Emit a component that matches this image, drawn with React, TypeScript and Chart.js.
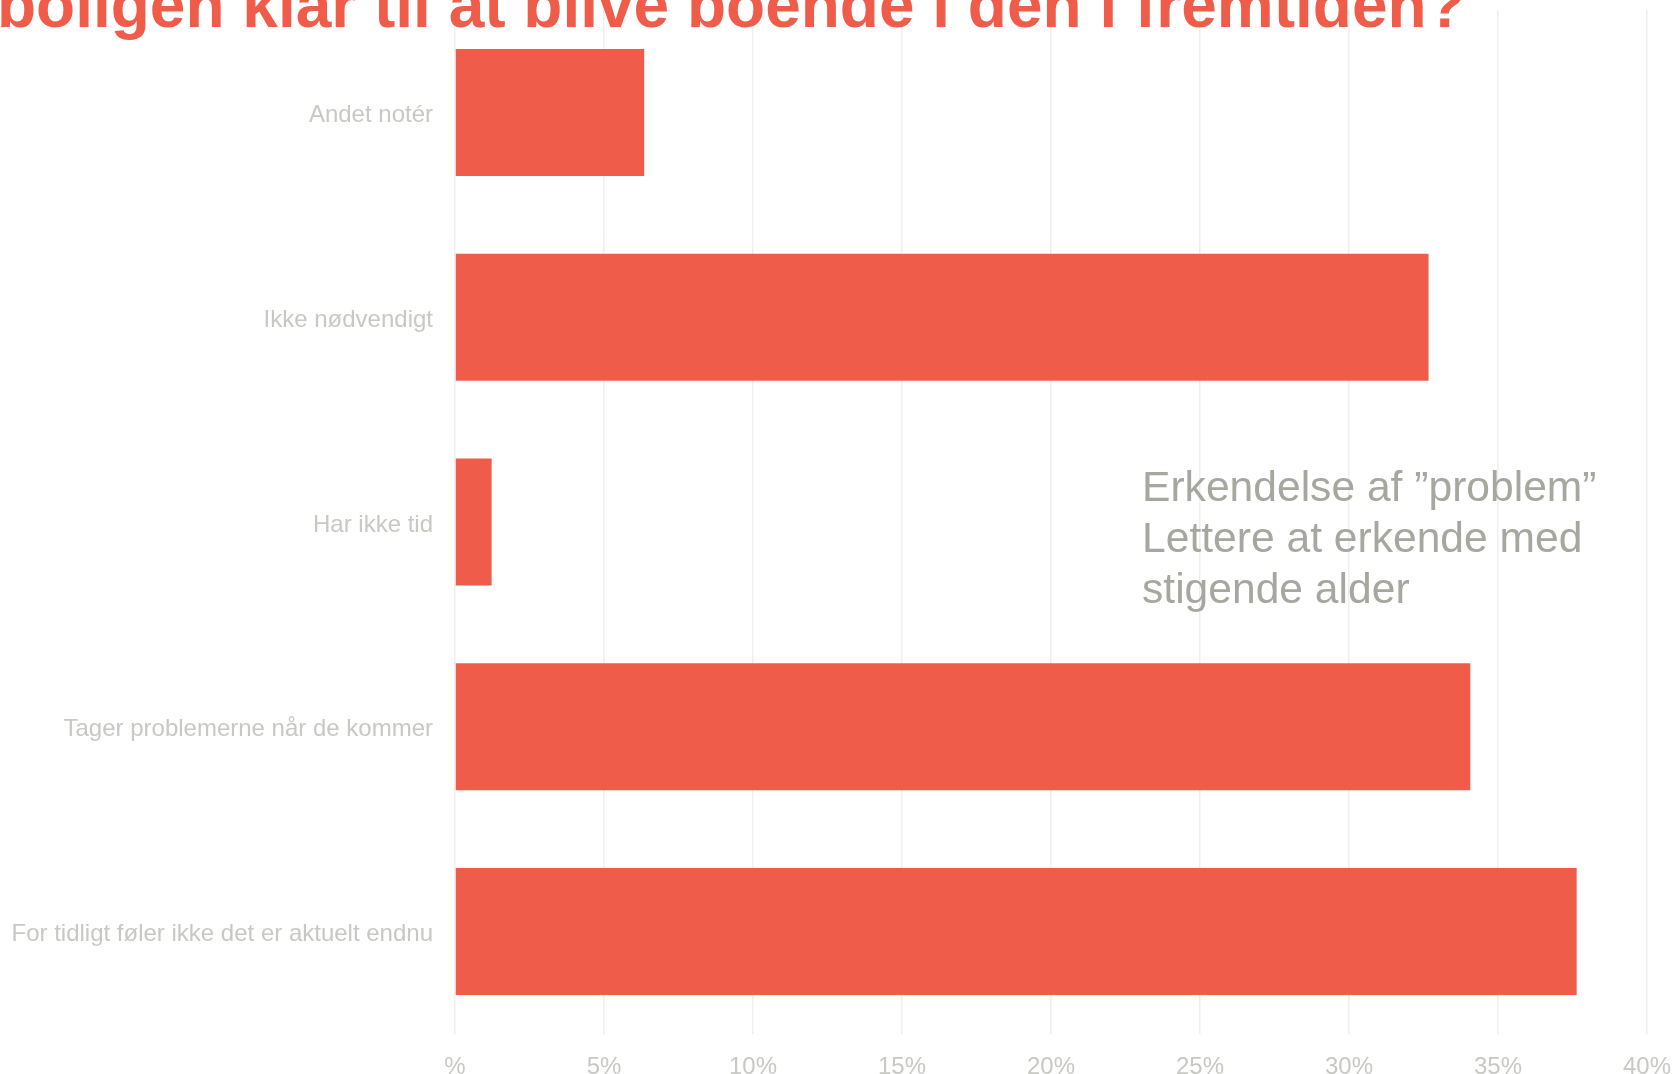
import React, { useEffect, useRef } from "react";
import { Chart, registerables } from "chart.js";

Chart.register(...registerables);

const categories = [
  "Andet notér",
  "Ikke nødvendigt",
  "Har ikke tid",
  "Tager problemerne når de kommer",
  "For tidligt føler ikke det er aktuelt endnu",
];
const values = [6.35, 32.67, 1.23, 34.07, 37.64];
const xTicks = [0, 5, 10, 15, 20, 25, 30, 35, 40];
const titleText = "boligen klar til at blive boende i den i fremtiden?";
const noteLines = ["Erkendelse af ”problem”", "Lettere at erkende med", "stigende alder"];

const RED = "#EF5D4A";
const FONT = "'Liberation Sans', Arial, Helvetica, sans-serif";

export default function App() {
  const ref = useRef<HTMLCanvasElement>(null);

  useEffect(() => {
    document.body.style.margin = "0";
    const canvas = ref.current;
    if (!canvas) return;
    const chart = new Chart(canvas, {
      type: "bar",
      data: {
        labels: categories,
        datasets: [
          {
            data: values,
            backgroundColor: RED,
            borderWidth: 0,
            categoryPercentage: 0.62,
            barPercentage: 1,
          },
        ],
      },
      options: {
        indexAxis: "y",
        animation: false,
        responsive: false,
        maintainAspectRatio: false,
        layout: { padding: { top: 10, right: 26, left: 0, bottom: 0 } },
        plugins: {
          legend: { display: false },
          title: { display: false },
          tooltip: { enabled: false },
        },
        scales: {
          x: {
            min: 0,
            max: 40,
            afterBuildTicks: (scale: any) => {
              scale.ticks = xTicks.map((v) => ({ value: v }));
            },
            afterFit: (scale: any) => {
              scale.height = 40;
              scale.paddingLeft = 0;
              scale.paddingRight = 0;
              scale.paddingTop = 0;
              scale.paddingBottom = 0;
            },
            ticks: {
              stepSize: 5,
              padding: 19,
              color: "#c8c8c4",
              font: { family: FONT, size: 24 },
              callback: (v: any) => (Number(v) === 0 ? "%" : v + "%"),
              maxRotation: 0,
            },
            grid: { color: "#efefef", lineWidth: 1.5, drawTicks: false },
            border: { display: false },
          },
          y: {
            afterFit: (scale: any) => {
              scale.width = 455;
              scale.paddingLeft = 0;
              scale.paddingRight = 0;
              scale.paddingTop = 0;
              scale.paddingBottom = 0;
            },
            ticks: {
              padding: 22,
              labelOffset: 3,
              color: "#c8c8c4",
              font: { family: FONT, size: 24 },
            },
            grid: { display: false, drawTicks: false },
            border: { display: false },
          },
        },
      },
    });
    return () => chart.destroy();
  }, []);

  return (
    <div style={{ position: "relative", width: 1673, height: 1074, overflow: "hidden", background: "#fff" }}>
      <canvas ref={ref} width={1673} height={1074} style={{ position: "absolute", left: 0, top: 0 }} />
      <div
        style={{
          position: "absolute",
          left: -3,
          top: -27,
          whiteSpace: "nowrap",
          fontFamily: FONT,
          fontWeight: "bold",
          fontSize: 64,
          lineHeight: "64px",
          color: RED,
        }}
      >
        {titleText}
      </div>
      <div
        style={{
          position: "absolute",
          left: 1142,
          top: 461,
          whiteSpace: "nowrap",
          fontFamily: FONT,
          fontSize: 42.6,
          lineHeight: "51px",
          color: "#a7a7a0",
        }}
      >
        {noteLines.map((l, i) => (
          <div key={i}>{l}</div>
        ))}
      </div>
    </div>
  );
}
